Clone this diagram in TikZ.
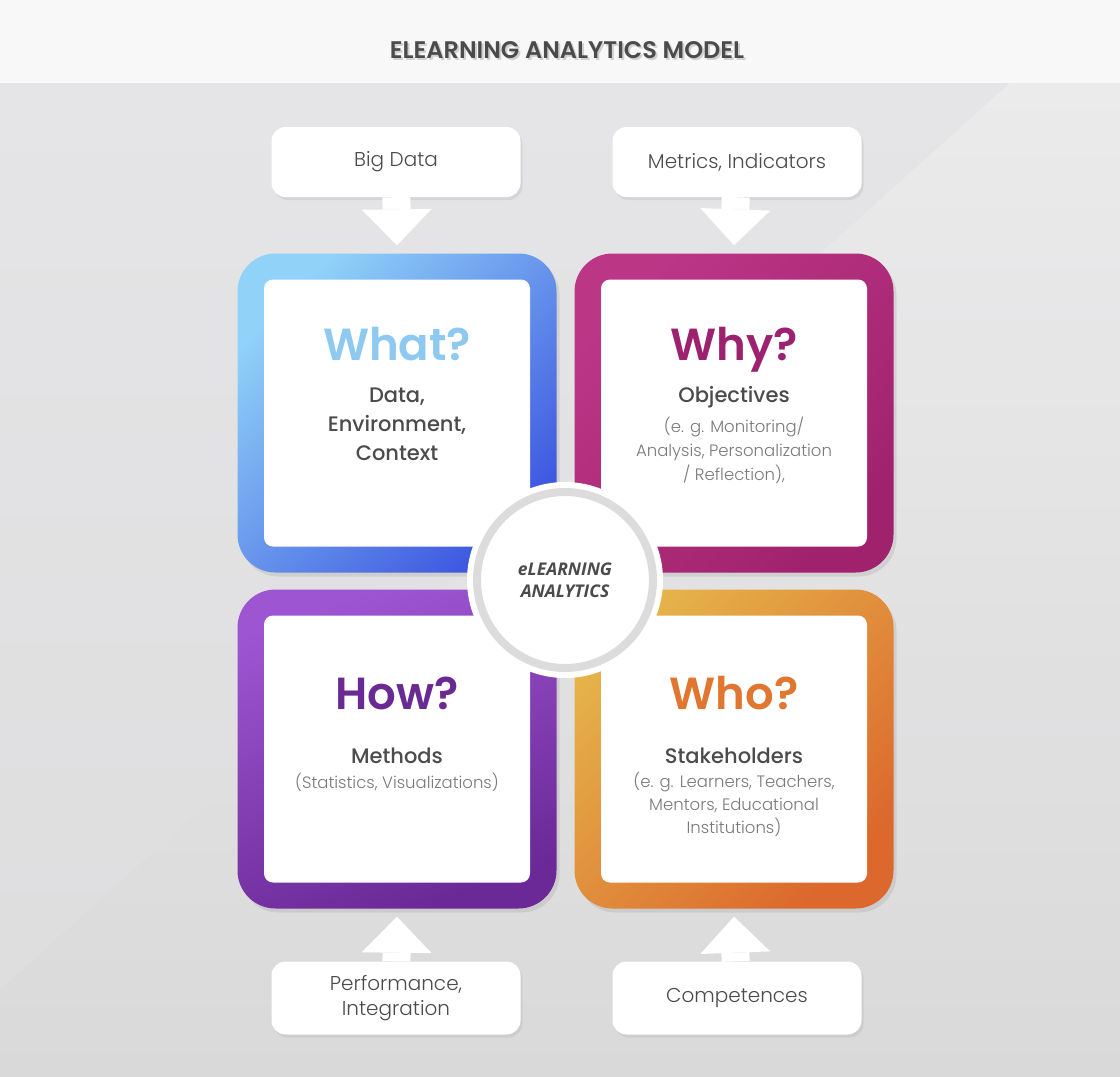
\documentclass[tikz,border=0pt]{standalone}
\usepackage{fontspec}
\setmainfont{Poppins}
\newfontfamily\lightface{Poppins Light}
\newfontfamily\medface{Poppins Medium}
\newfontfamily\semiface{Poppins SemiBold}
\newfontfamily\hubface{Open Sans}
\usetikzlibrary{arrows.meta,positioning,calc,shadows}

\definecolor{ink}{HTML}{4B4B4B}
\definecolor{mute}{HTML}{7A7A7A}
\definecolor{band}{HTML}{F8F8F8}
\definecolor{floortop}{HTML}{E5E4E6}
\definecolor{floorbot}{HTML}{DDDDDE}
\definecolor{floorhi}{HTML}{EDEDED}
\definecolor{floorlo}{HTML}{D9D9DA}
\definecolor{ringgray}{HTML}{DCDCDC}
\definecolor{whatA}{HTML}{90D2F8}
\definecolor{whatB}{HTML}{3E58E0}
\definecolor{whatT}{HTML}{8EC9F1}
\definecolor{whyA}{HTML}{BC3686}
\definecolor{whyB}{HTML}{A0226C}
\definecolor{whyT}{HTML}{9C2270}
\definecolor{howA}{HTML}{9E55D2}
\definecolor{howB}{HTML}{6A2996}
\definecolor{howT}{HTML}{6A2A93}
\definecolor{whoA}{HTML}{E5B34A}
\definecolor{whoB}{HTML}{DC682D}
\definecolor{whoT}{HTML}{E0762F}

\tikzset{
  frame/.style={rectangle,rounded corners=38pt,minimum width=319pt,minimum height=319pt,
    inner sep=0pt,drop shadow={opacity=.18,shadow xshift=3pt,shadow yshift=-4pt}},
  pane/.style={rectangle,rounded corners=9pt,fill=white,minimum width=266pt,
    minimum height=267pt,inner sep=0pt},
  headline/.style={font=\semiface\fontsize{45}{50}\selectfont},
  subline/.style={font=\medface\fontsize{21}{29}\selectfont,text=ink,align=center},
  noteline/.style={font=\lightface\fontsize{16.5}{24}\selectfont,text=mute,align=center},
  callout/.style={rectangle,rounded corners=14pt,fill=white,minimum width=249pt,
    minimum height=70pt,align=center,text=ink,
    font=\lightface\fontsize{20}{25}\selectfont,
    drop shadow={opacity=.14,shadow xshift=2pt,shadow yshift=-3pt}},
  feed/.style={draw=white,line width=28pt,
    -{Triangle[width=70pt,length=36pt,line width=0pt]}},
  hub/.style={circle,minimum size=176pt,inner sep=0pt,fill=white,draw=ringgray,
    line width=8pt,preaction={draw=white,line width=20pt},
    drop shadow={opacity=.12,shadow xshift=3pt,shadow yshift=-3pt},
    align=center,text=ink,font=\hubface\bfseries\itshape\fontsize{17.5}{21.5}\selectfont},
}

\begin{document}
\begin{tikzpicture}[x=1pt,y=1pt]
\useasboundingbox (0,0) rectangle (1120,-1077);
% backdrop
\fill[band] (0,0) rectangle (1120,-83);
\shade[top color=floortop,bottom color=floorbot] (0,-83) rectangle (1120,-1077);
\shade[top color=floorhi,bottom color=floorlo,opacity=.8]
  (1010,-83) -- (1120,-83) -- (1120,-1077) -- (0,-1077) -- (0,-990) -- cycle;

\node[font=\semiface\fontsize{24}{28}\selectfont,text=black!18,anchor=base]
  at (569,-60) {ELEARNING ANALYTICS MODEL};
\node[font=\semiface\fontsize{24}{28}\selectfont,text=ink,anchor=base]
  (title) at (567,-58) {ELEARNING ANALYTICS MODEL};

% the four quadrants
\foreach \nm/\x/\y/\ca/\cb/\ang in {what/397/-413/whatA/whatB/45,why/734/-413/whyA/whyB/45,
    how/397/-749/howA/howB/20,who/734/-749/whoA/whoB/45}{
  \node[frame,top color=\ca,bottom color=\cb,shading angle=\ang] (\nm) at (\x,\y) {};
  \node[pane] (\nm pane) at (\x,\y) {};}
\foreach \nm/\q/\c/\dy in {what/What?/whatT/53,why/Why?/whyT/53,how/How?/howT/40,who/Who?/whoT/40}{
  \node[headline,text=\c,anchor=base] (\nm q) at ($(\nm)+(0,\dy)$) {\q};}

% base of a multi-line node sits on its last line
\node[subline,below=100pt of whatq.base,anchor=base] (whatsub) {Data,\\Environment,\\Context};
\node[subline,below=42pt of whyq.base,anchor=base] (whysub) {Objectives};
\node[noteline,below=78pt of whysub.base,anchor=base] (whynote)
  {(e. g. Monitoring/\\Analysis, Personalization\\/ Reflection),};
\node[subline,below=54pt of howq.base,anchor=base] (howsub) {Methods};
\node[noteline,below=25pt of howsub.base,anchor=base] (hownote) {(Statistics, Visualizations)};
\node[subline,below=54pt of whoq.base,anchor=base] (whosub) {Stakeholders};
\node[noteline,below=70pt of whosub.base,anchor=base,font=\lightface\fontsize{16.5}{23}\selectfont]
  (whonote) {(e. g. Learners, Teachers,\\Mentors, Educational\\Institutions)};

% centre badge
\node[hub] (hub) at (565,-580) {eLEARNING\\ANALYTICS};

% inputs
\node[callout] (bigdata) at (396,-162) {Big Data};
\node[callout] (metrics) at (737,-162) {Metrics, Indicators};
\node[callout,minimum height=73pt] (perf) at (396,-998) {Performance,\\Integration};
\node[callout,minimum height=73pt] (comp) at (737,-998) {Competences};

\coordinate (whatin) at ($(what.north)+(0,8)$);
\coordinate (whyin) at ($(why.north)+(0,8)$);
\coordinate (howin) at ($(how.south)+(0,-8)$);
\coordinate (whoin) at ($(who.south)+(0,-8)$);
\draw[feed] (bigdata) -- (whatin);
\draw[feed] (metrics) -- (whyin);
\draw[feed] (perf) -- (howin);
\draw[feed] (comp) -- (whoin);
\end{tikzpicture}
\end{document}
